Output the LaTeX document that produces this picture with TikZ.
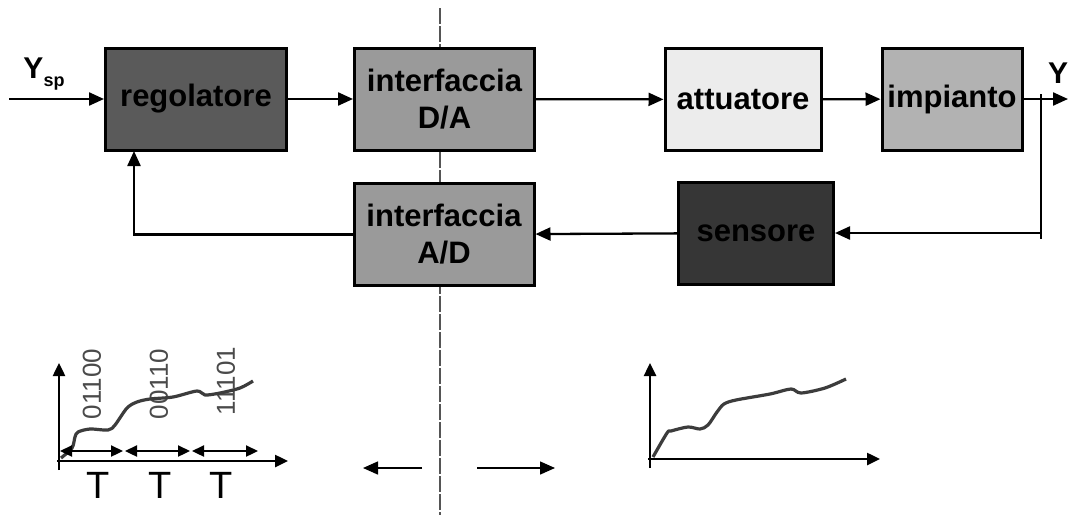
\documentclass[tikz,border=0pt]{standalone}
\usepackage{fontspec}
\setmainfont{Liberation Sans}
\usetikzlibrary{arrows.meta}
\definecolor{regfill}{HTML}{5A5A5A}
\definecolor{ifcfill}{HTML}{9A9A9A}
\definecolor{attfill}{HTML}{ECECEC}
\definecolor{impfill}{HTML}{B2B2B2}
\definecolor{senfill}{HTML}{363636}
\definecolor{dashgray}{HTML}{555555}
\definecolor{curvegray}{HTML}{3C3C3C}
\definecolor{bitgray}{HTML}{4A4A4A}

\begin{document}
\begin{tikzpicture}[x=1pt,y=-1pt,>={Triangle[length=15pt,width=13pt]},
                    line width=2.3pt]
  \tikzstyle{block}=[draw=black,line width=3pt,minimum height=102pt,inner sep=0pt,
                     align=center,font=\fontsize{31}{37}\selectfont\bfseries]
  \tikzstyle{axis}=[->,line width=2.5pt,>={Triangle[length=13pt,width=12pt]}]
  \tikzstyle{curve}=[line width=3.2pt,curvegray,line join=round]
  \tikzstyle{bits}=[rotate=90,text=bitgray,font=\fontsize{26}{26}\selectfont]
  \tikzstyle{tlabel}=[font=\fontsize{38}{38}\selectfont]

  \path[fill=white,use as bounding box] (0,0) rectangle (1068,515);
  \draw[dashgray,line width=1.8pt,dash pattern=on 16pt off 2pt] (440,8) -- (440,515);

  % blocks
  \node[block,fill=regfill,minimum width=181pt] (R)  at (196,99)   {regolatore};
  \node[block,fill=ifcfill,minimum width=180pt] (DA) at (444.5,99) {interfaccia\\D/A};
  \node[block,fill=attfill,minimum width=156pt] (AT) at (743,99.5) {attuatore};
  \node[block,fill=impfill,minimum width=140pt] (P)  at (952,99)   {impianto};
  \node[block,fill=ifcfill,minimum width=180pt] (AD) at (444,234.5) {interfaccia\\A/D};
  \node[block,fill=senfill,minimum width=155pt] (S)  at (756,233)  {sensore};

  \node[font=\fontsize{30}{30}\selectfont\bfseries] (Ysp) at (44,74)
       {Y\raisebox{-0.45ex}{\fontsize{18}{18}\selectfont sp}};
  \node[font=\fontsize{30}{30}\selectfont\bfseries] (Y) at (1058,73) {Y};

  \coordinate (in)   at (9,99);
  \coordinate (out)  at (1068,99);
  \coordinate (ytop) at (1041,94);
  \coordinate (ybot) at (1041,239);
  \coordinate (yfb)  at (1041,233);
  \coordinate (fbk)  at (134,151);

  % loop
  \draw[->] (in) -- (R);
  \draw[->] (R) -- (DA);
  \draw[->] (DA) -- (AT);
  \draw[->] (AT) -- (P);
  \draw[->] (P) -- (out);
  \draw[line width=2pt] (ytop) -- (ybot);
  \draw[->] (yfb) -- (S);
  \draw[->] (S) -- (AD);
  \draw[->] (AD.west) -| (fbk);

  % sampled signal
  \node[bits] (b1) at (92,384)  {01100};
  \node[bits] (b2) at (159,384) {00110};
  \node[bits] (b3) at (226,381) {11101};
  \draw[axis] (59,470) -- (59,363);
  \draw[axis] (57,461) -- (288,461);
  \draw[curve] plot[smooth,tension=0.5] coordinates {(61,458) (72,448) (75,437) (78,432)
    (90,429) (108,430) (115,425) (127,408) (137,402) (150,399) (173,397) (197,391)
    (205,395) (220,393) (240,388) (253,381)};
  \foreach \a/\b/\c in {60/123/98, 125/190/160, 192/258/221}{
    \draw[<->,>={Triangle[length=12pt,width=11pt]}] (\a,451) -- (\b,451);
    \node[tlabel] at (\c,485) {T};
  }

  \draw[->,line width=1.5pt] (422,468) -- (363,468);
  \draw[->,line width=1.5pt] (477,468) -- (555,468);

  % continuous signal
  \draw[axis] (650,468) -- (650,363);
  \draw[axis] (648,459) -- (880,459);
  \draw[curve] plot[smooth,tension=0.5] coordinates {(653,457) (667,433) (671,431)
    (688,427) (700,429) (708,425) (717,412) (724,404) (736,400) (770,394) (791,389)
    (801,393) (825,388) (846,379)};
\end{tikzpicture}
\end{document}
